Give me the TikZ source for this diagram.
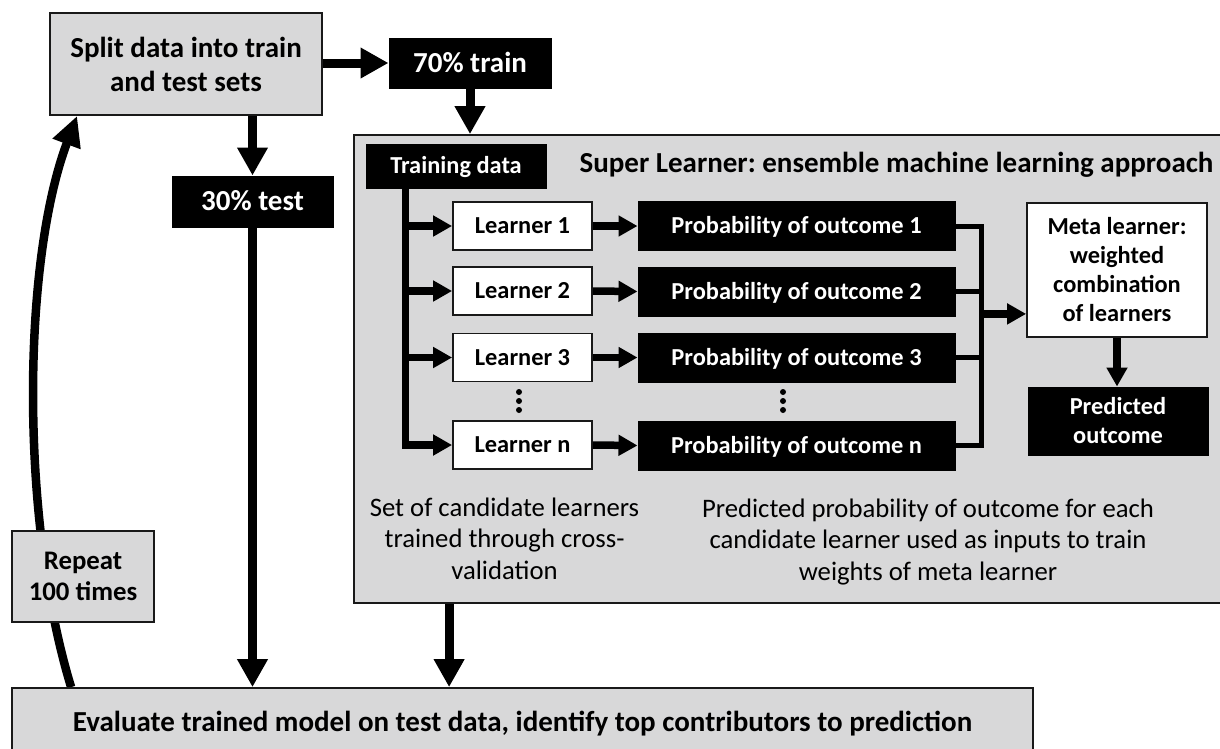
\documentclass[tikz,border=0pt]{standalone}
\usepackage{fontspec}
\setmainfont{Carlito}
\usetikzlibrary{arrows.meta,calc}
\pgfdeclarelayer{bg}
\pgfsetlayers{bg,main}
\definecolor{boxgray}{RGB}{216,216,217}
\frenchspacing
\begin{document}
\begin{tikzpicture}[x=1pt,y=-1pt,
  graybox/.style={draw=black!90,line width=1.8pt,fill=boxgray,inner sep=0pt,align=center},
  blackbox/.style={draw=black,line width=1pt,fill=black,text=white,inner sep=0pt,align=center},
  whitebox/.style={draw=black!90,line width=1.8pt,fill=white,inner sep=0pt,align=center},
  onebig/.style={text height=20.7pt,text depth=2pt},
  onemid/.style={text height=17.7pt,text depth=2pt},
  bigfont/.style={font=\bfseries\fontsize{29}{34}\selectfont},
  midfont/.style={font=\bfseries\fontsize{24.4}{29}\selectfont},
  capfont/.style={font=\fontsize{26.7}{31.5}\selectfont},
  bigarrow/.style={line width=9pt,-{Triangle[length=28pt,width=29pt]}},
  smallarrow/.style={line width=7.5pt,-{Triangle[length=19pt,width=20pt]}},
  busline/.style={line width=5pt},
  curvearrow/.style={line width=8.5pt,-{Triangle[length=30pt,width=28pt]}}
]
\useasboundingbox (0,0) rectangle (1220,748);

% main boxes
\node[graybox,bigfont,minimum width=272pt,minimum height=102pt] (split) at (186,64) {Split data into train\\and test sets};
\node[blackbox,bigfont,onebig,minimum width=162pt,minimum height=50pt] (train70) at (470,63) {70\% train};
\node[blackbox,bigfont,onebig,minimum width=161pt,minimum height=51pt] (test30) at (252.5,201.5) {30\% test};
\node[graybox,minimum width=870pt,minimum height=468pt] (SL) at (789,369) {};
\node[bigfont,onebig,inner sep=0pt] (sltitle) at (896.5,163) {Super Learner: ensemble machine learning approach};
\node[blackbox,midfont,onemid,minimum width=180pt,minimum height=44pt] (trdata) at (456,166) {Training data};

% learners
\node[whitebox,midfont,onemid,minimum width=139pt,minimum height=48pt] (L1) at (522.5,226) {Learner 1};
\node[whitebox,midfont,onemid,minimum width=139pt,minimum height=48pt] (L2) at (522.5,291) {Learner 2};
\node[whitebox,midfont,onemid,minimum width=139pt,minimum height=48pt] (L3) at (522.5,357.5) {Learner 3};
\node[whitebox,midfont,onemid,minimum width=139pt,minimum height=48pt] (Ln) at (522.5,445) {Learner n};

% probabilities
\node[blackbox,midfont,onemid,minimum width=317pt,minimum height=49pt] (P1) at (796.5,226) {Probability of outcome 1};
\node[blackbox,midfont,onemid,minimum width=317pt,minimum height=49pt] (P2) at (796.5,291.5) {Probability of outcome 2};
\node[blackbox,midfont,onemid,minimum width=317pt,minimum height=49pt] (P3) at (796.5,357.5) {Probability of outcome 3};
\node[blackbox,midfont,onemid,minimum width=317pt,minimum height=49pt] (Pn) at (796.5,445.5) {Probability of outcome n};

% vertical dots
\foreach \yy in {392,401,410} {
  \fill (519,\yy) circle (3);
  \fill (783,\yy) circle (3);
}

% meta learner and prediction
\node[whitebox,midfont,minimum width=180pt,minimum height=134pt] (meta) at (1117,270) {Meta learner:\\weighted\\combination\\of learners};
\node[blackbox,midfont,minimum width=180pt,minimum height=68pt] (pred) at (1118,421) {Predicted\\outcome};

% captions
\node[capfont,align=center,inner sep=0pt] (cap1) at (504.5,538.6) {Set of candidate learners\\trained through cross-\\validation};
\node[capfont,align=center,inner sep=0pt] (cap2) at (928,541.9) {Predicted probability of outcome for each\\candidate learner used as inputs to train\\weights of meta learner};

% repeat and evaluate
\node[graybox,font=\bfseries\fontsize{26.8}{31}\selectfont,minimum width=142pt,minimum height=91pt] (repeat) at (83,576.5) {Repeat\\100 times};
\node[graybox,bigfont,onebig,minimum width=1021pt,minimum height=68pt] (eval) at (522.5,722) {Evaluate trained model on test data, identify top contributors to prediction};

% coordinates
\coordinate (trunk) at ($(trdata.south west)+(40,0)$);
\coordinate (bus) at ($(P1.east)+(26,0)$);
\coordinate (metain) at ($(meta.south west)+(0,-24)$);
\coordinate (slout) at ($(SL.south west)+(96,0)$);
\coordinate (cstart) at ($(eval.north west)+(60,0)$);
\coordinate (cend) at ($(split.south west)+(28,0)$);

% big arrows
\draw[bigarrow] (split.east |- train70.west) -- (train70.west);
\draw[bigarrow] (split.south -| test30.north) -- (test30.north);
\draw[bigarrow] (train70.south) -- (train70.south |- SL.north);
\draw[bigarrow] (test30.south) -- (test30.south |- eval.north);
\draw[bigarrow] (slout) -- (slout |- eval.north);

% repeat loop
\begin{pgfonlayer}{bg}
\draw[curvearrow] (cstart) .. controls (20,520) and (22,262) .. (cend);
\end{pgfonlayer}

% training data trunk
\draw[smallarrow] (trunk) |- (Ln.west);
\draw[smallarrow] (trunk |- L1.west) -- (L1.west);
\draw[smallarrow] (trunk |- L2.west) -- (L2.west);
\draw[smallarrow] (trunk |- L3.west) -- (L3.west);

% learners to probabilities
\draw[smallarrow] (L1.east) -- (P1.west);
\draw[smallarrow] (L2.east) -- (P2.west);
\draw[smallarrow] (L3.east) -- (P3.west);
\draw[smallarrow] (Ln.east) -- (Pn.west);

% bus to meta
\draw[busline] (P1.east) -- (bus) |- (Pn.east);
\draw[busline] (P2.east) -- (P2.east -| bus);
\draw[busline] (P3.east) -- (P3.east -| bus);
\draw[smallarrow] (bus |- metain) -- (metain);
\draw[smallarrow] (meta.south) -- (meta.south |- pred.north);
\end{tikzpicture}
\end{document}
